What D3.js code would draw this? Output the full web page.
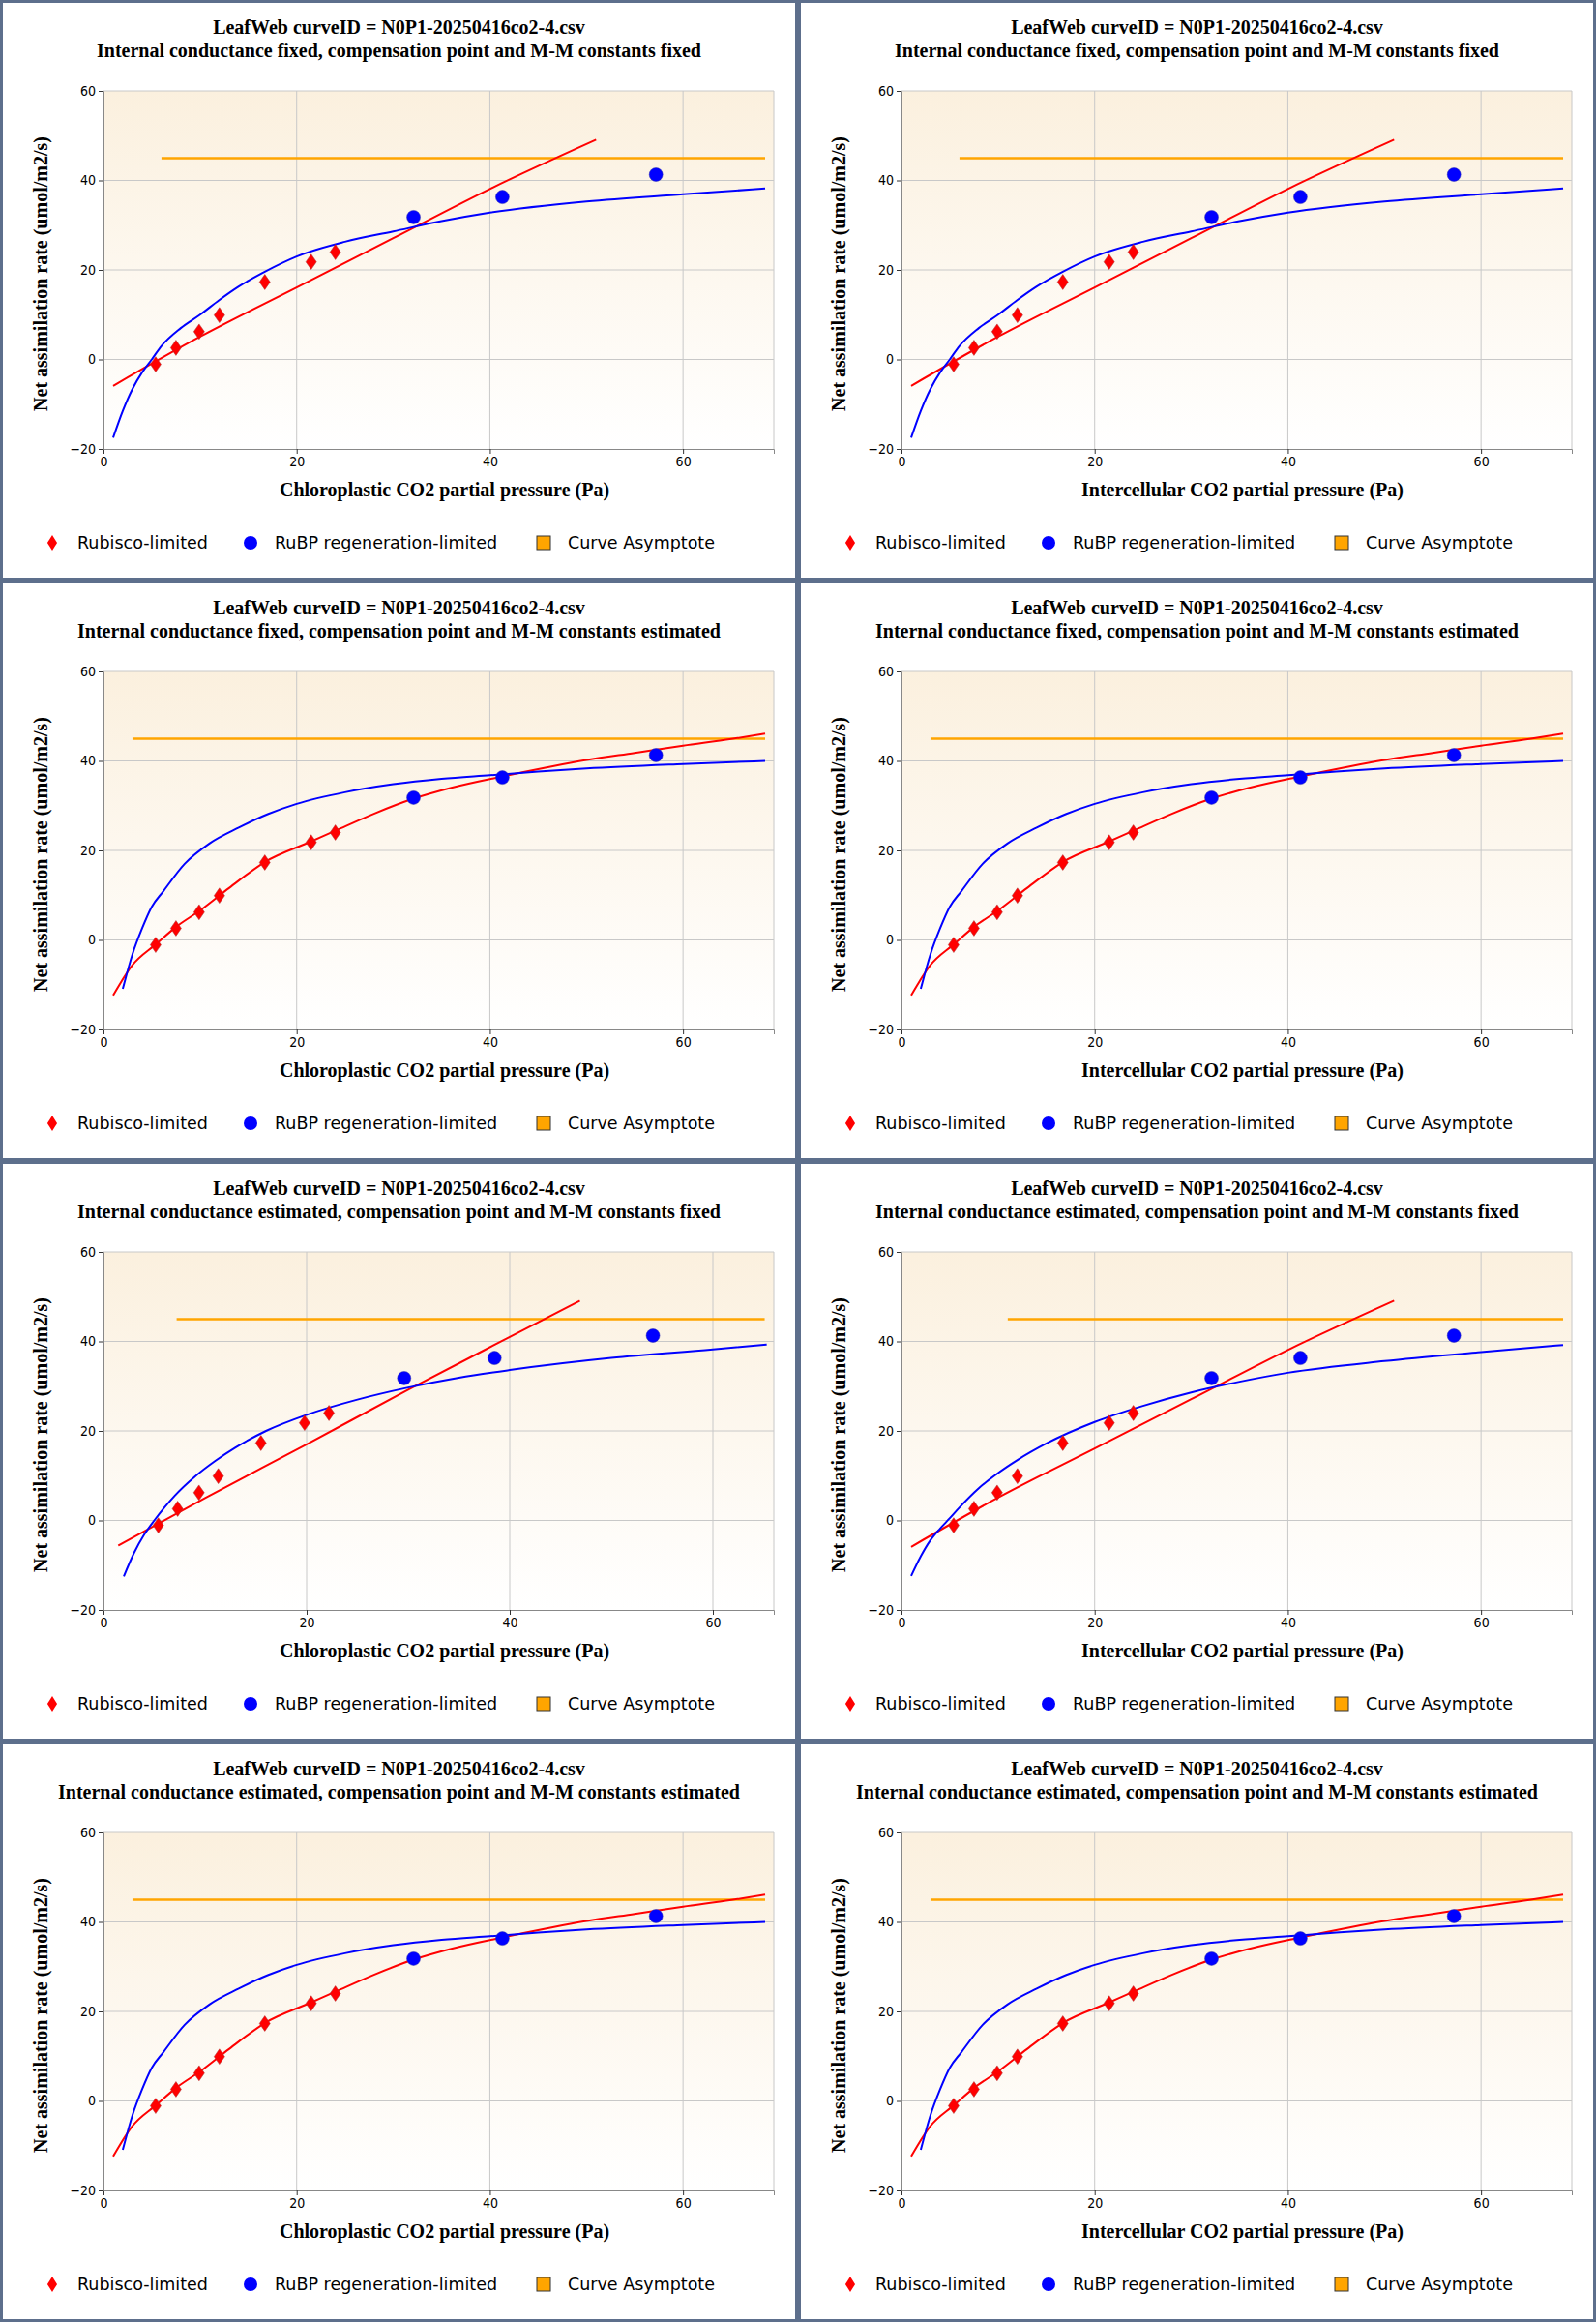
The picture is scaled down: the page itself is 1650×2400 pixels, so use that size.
<!DOCTYPE html>
<html><head><meta charset="utf-8">
<script src="https://cdn.jsdelivr.net/npm/d3@7"></script>
<style>body{margin:0;background:#fff}svg{display:block}</style>
</head><body><svg id="c" width="1650" height="2400"></svg>
<script>
'use strict';
var fileTitle = "LeafWeb curveID = N0P1-20250416co2-4.csv";
var subtitles = [
  "Internal conductance fixed, compensation point and M-M constants fixed",
  "Internal conductance fixed, compensation point and M-M constants estimated",
  "Internal conductance estimated, compensation point and M-M constants fixed",
  "Internal conductance estimated, compensation point and M-M constants estimated"];
var xTitles = ["Chloroplastic CO2 partial pressure (Pa)", "Intercellular CO2 partial pressure (Pa)"];
var yTitle = "Net assimilation rate (umol/m2/s)";
var yTicks = [-20, 0, 20, 40, 60];
var xTicks = [0, 20, 40, 60];

// measured points (Ci, and Cc when gm estimated)
var rubX = [5.4, 7.5, 9.9, 12.0, 16.7, 21.5, 24.0];
var rubXcc = [5.4, 7.3, 9.4, 11.3, 15.5, 19.8, 22.2];
var rubY = [-1.1, 2.6, 6.2, 9.9, 17.3, 21.8, 24.0];
var rubpX = [32.1, 41.3, 57.2];
var rubpXcc = [29.6, 38.5, 54.1];
var rubpY = [31.8, 36.3, 41.3];

// fitted curves
var fixRedX = [1.0, 10, 20, 30, 40, 51.0];
var fixRedY = [-5.9, 5.1, 16.1, 27.1, 38.1, 49.1];
var fixBlueX = [1.0, 2, 3, 4, 5, 6, 8, 10, 12, 14, 16.7, 20, 25, 30, 35, 40, 50, 60, 68.5];
var fixBlueY = [-17.5, -11.5, -6.6, -2.9, 0, 3.0, 7.0, 10.0, 13.3, 16.3, 19.6, 23.0, 26.3, 28.6, 30.9, 32.8, 35.3, 36.9, 38.2];
var estRedX = [1.0, 3, 5.4, 7.5, 10, 13, 16.7, 21.5, 24, 28, 32, 36, 41, 46, 50, 55, 60, 65, 68.5];
var estRedY = [-12.4, -5.6, -1.0, 2.9, 6.6, 11.6, 17.4, 22.0, 24.4, 28.2, 31.5, 34.0, 36.4, 38.6, 40.2, 41.8, 43.4, 44.9, 46.1];
var estBlueX = [2.0, 3, 4, 5, 6.2, 8.4, 11, 14, 17, 20, 25, 30, 35, 40, 45, 50, 60, 68.5];
var estBlueY = [-10.9, -3.2, 2.6, 7.4, 10.9, 17.0, 21.6, 25.1, 28.1, 30.4, 33.0, 34.8, 36.0, 36.8, 37.6, 38.3, 39.3, 40.0];
var gmRedX = [1.45, 10, 20, 30, 40, 46.9];
var gmRedY = [-5.6, 5.0, 17.0, 29.2, 41.0, 49.1];
var gmBlueX = [2.0, 3, 4, 5, 6, 7, 9, 11, 13, 16, 20, 25, 30, 35, 40, 50, 60, 65.3];
var gmBlueY = [-12.5, -7.3, -3.2, 0, 2.9, 5.5, 9.8, 13.3, 16.3, 20.0, 23.6, 27.0, 29.7, 31.9, 33.6, 36.3, 38.2, 39.3];
var gmCiBlueX = [1.0, 2, 3, 4, 5, 6, 8, 10, 12, 15, 20, 25, 30, 35, 40, 50, 60, 68.5];
var gmCiBlueY = [-12.4, -8.0, -4.4, -1.8, 0.5, 2.9, 7.2, 10.6, 13.5, 17.2, 22.0, 25.6, 28.6, 31.0, 33.0, 35.6, 37.6, 39.2];
var asymY = 45;

function zip(xs, ys) { return xs.map(function (x, i) { return [x, ys[i]]; }); }

var panels = [
  { sub: 0, xt: 0, xmax: 69.4, rx: rubX, px: rubpX, red: zip(fixRedX, fixRedY), blue: zip(fixBlueX, fixBlueY), a: [6.0, 68.5] },
  { sub: 0, xt: 1, xmax: 69.4, rx: rubX, px: rubpX, red: zip(fixRedX, fixRedY), blue: zip(fixBlueX, fixBlueY), a: [6.0, 68.5] },
  { sub: 1, xt: 0, xmax: 69.4, rx: rubX, px: rubpX, red: zip(estRedX, estRedY), blue: zip(estBlueX, estBlueY), a: [3.0, 68.5] },
  { sub: 1, xt: 1, xmax: 69.4, rx: rubX, px: rubpX, red: zip(estRedX, estRedY), blue: zip(estBlueX, estBlueY), a: [3.0, 68.5] },
  { sub: 2, xt: 0, xmax: 66.0, rx: rubXcc, px: rubpXcc, red: zip(gmRedX, gmRedY), blue: zip(gmBlueX, gmBlueY), a: [7.2, 65.1] },
  { sub: 2, xt: 1, xmax: 69.4, rx: rubX, px: rubpX, red: zip(fixRedX, fixRedY), blue: zip(gmCiBlueX, gmCiBlueY), a: [11.0, 68.5] },
  { sub: 3, xt: 0, xmax: 69.4, rx: rubX, px: rubpX, red: zip(estRedX, estRedY), blue: zip(estBlueX, estBlueY), a: [3.0, 68.5] },
  { sub: 3, xt: 1, xmax: 69.4, rx: rubX, px: rubpX, red: zip(estRedX, estRedY), blue: zip(estBlueX, estBlueY), a: [3.0, 68.5] }
];

var svg = d3.select("#c");
var defs = svg.append("defs");
var grad = defs.append("linearGradient").attr("id", "bg").attr("x1", 0).attr("y1", 0).attr("x2", 0).attr("y2", 1);
grad.append("stop").attr("offset", "0%").attr("stop-color", "#fbf0de");
grad.append("stop").attr("offset", "100%").attr("stop-color", "#ffffff");

var W = 825, H = 600, L = 107, R = 800, T = 94, B = 464;
var serif = "'Liberation Serif', 'Times New Roman', serif";
var cond = "'DejaVu Sans Condensed', 'DejaVu Sans', sans-serif";

panels.forEach(function (p, i) {
  var g = svg.append("g").attr("transform", "translate(" + ((i % 2) * W) + "," + (Math.floor(i / 2) * H) + ")");
  g.append("rect").attr("x", 1.5).attr("y", 1.5).attr("width", W - 3).attr("height", H - 3)
    .attr("fill", "#fff").attr("stroke", "#5d6f8c").attr("stroke-width", 3);

  var x = d3.scaleLinear().domain([0, p.xmax]).range([L, R]);
  var y = d3.scaleLinear().domain([-20, 60]).range([B, T]);

  g.append("rect").attr("x", L).attr("y", T).attr("width", R - L).attr("height", B - T).attr("fill", "url(#bg)");
  g.append("g").selectAll("line").data(yTicks.slice(1, 4)).join("line")
    .attr("x1", L).attr("x2", R).attr("y1", y).attr("y2", y).attr("stroke", "#c8c8c8");
  g.append("g").selectAll("line").data(xTicks.slice(1)).join("line")
    .attr("y1", T).attr("y2", B).attr("x1", x).attr("x2", x).attr("stroke", "#c8c8c8");
  g.append("line").attr("x1", R).attr("x2", R).attr("y1", T).attr("y2", B).attr("stroke", "#c8c8c8");
  g.append("line").attr("x1", L).attr("x2", R).attr("y1", T).attr("y2", T).attr("stroke", "#c8c8c8");

  var ax = g.append("g").attr("transform", "translate(0," + B + ")")
    .call(d3.axisBottom(x).tickValues(xTicks).tickSize(5).tickFormat(d3.format("d")));
  var ay = g.append("g").attr("transform", "translate(" + L + ",0)")
    .call(d3.axisLeft(y).tickValues(yTicks).tickSize(5).tickFormat(d3.format("d")));
  [ax, ay].forEach(function (a) {
    a.selectAll("text").attr("font-family", cond).attr("font-size", 14).attr("fill", "#000");
    a.selectAll("line,path").attr("stroke", "#333");
  });
  ax.select(".domain").attr("stroke", "#888");
  ay.select(".domain").attr("stroke", "#888");

  var line = d3.line().x(function (d) { return x(d[0]); }).y(function (d) { return y(d[1]); }).curve(d3.curveMonotoneX);
  g.append("path").attr("d", line([[p.a[0], asymY], [p.a[1], asymY]])).attr("stroke", "#ffa500").attr("stroke-width", 2.5).attr("fill", "none");
  g.append("path").attr("d", line(p.red)).attr("stroke", "#ff0000").attr("stroke-width", 2).attr("fill", "none");
  g.append("path").attr("d", line(p.blue)).attr("stroke", "#0000ff").attr("stroke-width", 2).attr("fill", "none");

  var diamond = d3.symbol().type(d3.symbolDiamond).size(80);
  g.append("g").selectAll("path").data(zip(p.rx, rubY)).join("path")
    .attr("d", diamond).attr("transform", function (d) { return "translate(" + x(d[0]) + "," + y(d[1]) + ") scale(1.15,0.95)"; })
    .attr("fill", "#ff0000").attr("stroke", "#aa3333").attr("stroke-width", 0.5);
  g.append("g").selectAll("circle").data(zip(p.px, rubpY)).join("circle")
    .attr("cx", function (d) { return x(d[0]); }).attr("cy", function (d) { return y(d[1]); })
    .attr("r", 7).attr("fill", "#0000ff").attr("stroke", "#3333aa").attr("stroke-width", 0.5);

  g.append("text").attr("x", W / 2).attr("y", 35).attr("text-anchor", "middle")
    .attr("font-family", serif).attr("font-weight", "bold").attr("font-size", 20).text(fileTitle);
  g.append("text").attr("x", W / 2).attr("y", 59).attr("text-anchor", "middle")
    .attr("font-family", serif).attr("font-weight", "bold").attr("font-size", 20).text(subtitles[p.sub]);
  g.append("text").attr("x", (L + R) / 2 + 6).attr("y", 513).attr("text-anchor", "middle")
    .attr("font-family", serif).attr("font-weight", "bold").attr("font-size", 20).text(xTitles[p.xt]);
  g.append("text").attr("transform", "translate(49," + ((T + B) / 2 + 4) + ") rotate(-90)").attr("text-anchor", "middle")
    .attr("font-family", serif).attr("font-weight", "bold").attr("font-size", 20).text(yTitle);

  var lg = g.append("g").attr("transform", "translate(0,561)");
  lg.append("path").attr("d", diamond).attr("transform", "translate(54,0) scale(1.05,0.95)").attr("fill", "#ff0000");
  lg.append("circle").attr("cx", 259).attr("cy", 0).attr("r", 7).attr("fill", "#0000ff");
  lg.append("rect").attr("x", 555).attr("y", -7).attr("width", 14).attr("height", 14).attr("fill", "#ffa500").attr("stroke", "#333").attr("stroke-width", 1);
  [["Rubisco-limited", 80], ["RuBP regeneration-limited", 284], ["Curve Asymptote", 587]].forEach(function (t) {
    lg.append("text").attr("x", t[1]).attr("y", 6).attr("font-family", "'DejaVu Sans', Verdana, sans-serif")
      .attr("font-size", 17.5).attr("fill", "#000").text(t[0]);
  });
});
</script></body></html>
